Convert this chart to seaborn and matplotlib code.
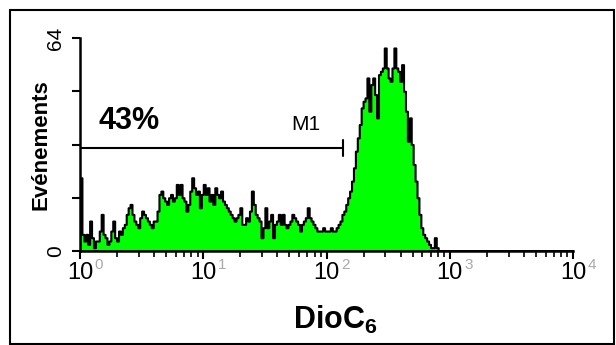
import numpy as np
import pandas as pd
import seaborn as sns
import matplotlib.pyplot as plt
from matplotlib.patches import Rectangle

# Events per channel (256 log channels over 4 decades), channels 0..186, rest empty
counts = [22, 5, 3, 5, 2, 9, 4, 1, 3, 3,
          6, 11, 5, 4, 2, 3, 6, 9, 4, 3,
          6, 5, 7, 8, 11, 13, 14, 11, 9, 8,
          7, 10, 12, 11, 10, 9, 8, 7, 9, 9,
          12, 17, 18, 16, 15, 14, 16, 17, 15, 16,
          20, 17, 20, 16, 15, 12, 14, 18, 22, 19,
          17, 18, 13, 17, 20, 17, 19, 15, 17, 14,
          19, 17, 16, 18, 15, 14, 13, 12, 11, 10,
          9, 10, 11, 13, 8, 8, 10, 9, 12, 18,
          14, 11, 10, 9, 4, 7, 13, 7, 9, 11,
          4, 8, 9, 11, 8, 11, 8, 7, 8, 9,
          11, 10, 9, 8, 6, 8, 9, 10, 13, 10,
          9, 8, 7, 6, 6, 6, 7, 6, 6, 6,
          7, 6, 6, 7, 8, 9, 11, 12, 14, 16,
          18, 21, 25, 30, 34, 38, 43, 45, 46, 52,
          42, 50, 52, 47, 40, 53, 54, 55, 61, 55,
          52, 51, 55, 61, 55, 54, 51, 56, 48, 42,
          33, 40, 32, 26, 21, 16, 11, 7, 5, 4,
          3, 2, 1, 1, 4, 1, 0]
n_channels = 256
decades = 4
exponents = ["0", "1", "2", "3", "4"]

# M1 marker
gate_name = "M1"
gate_pct = "43%"
gate_start = 0.0      # log10 of 10^0
gate_end = 2.13       # log10 of upper bound
gate_level = 31

sns.set_theme(style="ticks")
plt.rcParams["font.family"] = ["Liberation Sans", "DejaVu Sans"]
plt.rcParams["mathtext.fontset"] = "custom"
plt.rcParams["mathtext.rm"] = "Liberation Sans:bold"
plt.rcParams["mathtext.bf"] = "Liberation Sans:bold"
plt.rcParams["text.color"] = "black"
plt.rcParams["axes.labelcolor"] = "black"
plt.rcParams["xtick.color"] = "black"
plt.rcParams["ytick.color"] = "black"

log_pos = (np.arange(len(counts)) + 0.5) * decades / n_channels
df = pd.DataFrame({"log_dioc6": log_pos, "events": counts})

fig = plt.figure(figsize=(6.16, 3.45), dpi=100)
ax = fig.add_axes([80 / 616, 94 / 345, 493 / 616, 213 / 345])

sns.histplot(data=df, x="log_dioc6", weights="events",
             binwidth=decades / n_channels, binrange=(0, decades),
             element="step", fill=True, color="#00ff00", alpha=1,
             edgecolor="black", linewidth=1.5, ax=ax)

ax.set_xlim(0, decades)
ax.set_ylim(0, 64)
sns.despine(ax=ax)
for side in ["left", "bottom"]:
    ax.spines[side].set_linewidth(1.8)
    ax.spines[side].set_color("black")

# x ticks: decades with grey exponents, minor ticks in between
ax.set_xticks(range(decades + 1))
ax.set_xticklabels(["10"] * (decades + 1), fontsize=17)
ax.set_xticks([k + np.log10(m) for k in range(decades) for m in range(2, 10)], minor=True)
ax.tick_params(axis="x", which="major", length=6, width=1.5, pad=2)
ax.tick_params(axis="x", which="minor", length=4, width=1.2)
for k, e in enumerate(exponents):
    ax.annotate(e, xy=(k, 0), xycoords=("data", "axes fraction"),
                xytext=(10.5, -5), textcoords="offset points",
                fontsize=11, color="#aaaaaa", ha="left", va="top")

# y ticks
ax.set_yticks([0, 16, 32, 48, 64])
ax.set_yticklabels(["0", "", "", "", "64"], rotation=90, va="center", fontsize=15)
ax.tick_params(axis="y", length=6, width=1.5, pad=5)

ax.set_ylabel("Evénements", fontsize=16, fontweight="bold")
ax.yaxis.set_label_coords(-0.058, 0.5)
ax.set_xlabel(r"DioC$_6$", fontsize=22, fontweight="bold")
ax.xaxis.set_label_coords(0.517, -0.25)

# marker bar M1
ax.plot([gate_start, gate_end], [gate_level, gate_level], color="black", lw=1.5)
ax.plot([gate_end, gate_end], [gate_level - 2.5, gate_level + 2.5], color="black", lw=1.5)
ax.text(0.4, 39, gate_pct, fontsize=22, fontweight="bold", ha="center", va="center")
ax.text(1.83, 38, gate_name, fontsize=15, ha="center", va="center")

fig.patches.append(Rectangle((10 / 616, 1 / 345), 604 / 616, 334 / 345,
                             transform=fig.transFigure, fill=False,
                             edgecolor="black", linewidth=1.5))

fig.savefig("out.png", dpi=100)
